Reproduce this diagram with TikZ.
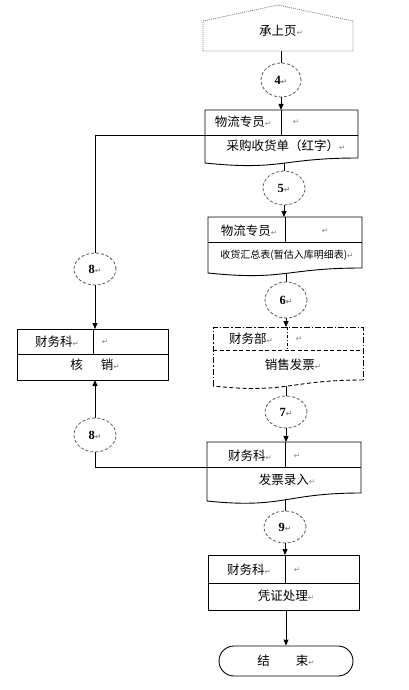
\documentclass[tikz,border=0pt]{standalone}
\usepackage{fontspec}
\newfontfamily\cjk{Noto Sans CJK SC}
\newfontfamily\dvs{DejaVu Sans}
\newfontfamily\numf{Liberation Serif}
\usetikzlibrary{arrows.meta,shapes.geometric}
\newcommand\rt{{\dvs\fontsize{7.5}{8}\selectfont\color{black!50}↵}}
\begin{document}
\begin{tikzpicture}[x=1pt,y=-1pt,
  ln/.style={line width=0.9pt,black},
  arr/.style={ln,-{Triangle[length=6pt,width=5pt]}},
  bx/.style={ln,fill=white},
  circ/.style={ellipse,draw=black!65,dash pattern=on 3pt off 2pt,line width=0.8pt,inner sep=0pt,fill=white,
    font=\numf\bfseries\fontsize{12.5}{14}\selectfont},
  tx/.style={font=\cjk\fontsize{12.5}{14}\selectfont,inner sep=0pt},
  txs/.style={font=\cjk\fontsize{10}{12}\selectfont,inner sep=0pt}]

\useasboundingbox (0,0) rectangle (409,690);

% ---------- connector end points ----------
\coordinate (pentb) at (281,51);
\coordinate (b1top) at (281,110);
\coordinate (b1bot) at (284,155);
\coordinate (b1left) at (205,135);
\coordinate (b2top) at (284,217);
\coordinate (b2bot) at (286,262);
\coordinate (b3top) at (286,327);
\coordinate (b3bot) at (286,375);
\coordinate (b4top) at (286,442);
\coordinate (b4bot) at (285,490);
\coordinate (b4left) at (207,467);
\coordinate (b5top) at (285,555);
\coordinate (b5bot) at (286,610);
\coordinate (lbtop) at (95,329);
\coordinate (lbbot) at (95,380);

% ---------- circles ----------
\node[circ,minimum width=40pt,minimum height=34pt] (c4) at (281,80) {4\rt};
\node[circ,minimum width=42pt,minimum height=34pt] (c5) at (284,188) {5\rt};
\node[circ,minimum width=42pt,minimum height=36pt] (c6) at (286,300) {6\rt};
\node[circ,minimum width=42pt,minimum height=32pt] (c7) at (286,412) {7\rt};
\node[circ,minimum width=42pt,minimum height=32pt] (c9) at (285,527) {9\rt};
\node[circ,minimum width=42pt,minimum height=32pt] (c8a) at (95,269) {8\rt};
\node[circ,minimum width=42pt,minimum height=34pt] (c8b) at (95,435) {8\rt};

% ---------- terminal ----------
\node[ln,draw,rounded corners=15pt,minimum width=134pt,minimum height=30pt,tx] (term) at (286,661) {结\hspace{26pt}束\rt};

% ---------- connectors ----------
\draw[ln] (pentb) -- (c4.north);
\draw[arr] (c4.south) -- (b1top);
\draw[ln] (b1bot) -- (c5.north);
\draw[arr] (c5.south) -- (b2top);
\draw[ln] (b2bot) -- (c6.north);
\draw[arr] (c6.south) -- (b3top);
\draw[ln] (b3bot) -- (c7.north);
\draw[arr] (c7.south) -- (b4top);
\draw[ln] (b4bot) -- (c9.north);
\draw[arr] (c9.south) -- (b5top);
\draw[arr] (b5bot) -- (term.north);
\draw[ln] (b1left) -| (c8a.north);
\draw[arr] (c8a.south) -- (lbtop);
\draw[ln] (b4left) -| (c8b.south);
\draw[arr] (c8b.north) -- (lbbot);

% ---------- pentagon (off-page connector) ----------
\draw[black!50,line width=0.8pt,dash pattern=on 1pt off 1pt] (203,51) -- (203,21) -- (278,5) -- (353,21) -- (353,51) -- cycle;
\node[tx] (pent) at (281,31) {承上页\rt};

% ---------- box 1 ----------
\draw[bx] (205,163) -- (205,110) -- (358,110) -- (358,158) .. controls (281,158) and (281,171) .. cycle;
\draw[ln] (205,135) -- (358,135) (281,110) -- (281,135);
\node[tx] (t1a) at (243,122) {物流专员\rt};
\node[tx] (t1b) at (296,122) {\rt};
\node[tx] (t1c) at (286,146) {采购收货单（红字）\rt};

% ---------- box 2 ----------
\draw[bx] (208,273) -- (208,217) -- (362,217) -- (362,268) .. controls (285,268) and (285,281) .. cycle;
\draw[ln] (208,242) -- (362,242) (285,217) -- (285,242);
\node[tx] (t2a) at (249,231) {物流专员\rt};
\node[tx] (t2b) at (325,231) {\rt};
\node[txs] (t2c) at (287,255) {收货汇总表(暂估入库明细表)\rt};

% ---------- box 3 (dashed) ----------
\fill[white] (213,386) -- (213,327) -- (363,327) -- (363,380) .. controls (288,380) and (288,394) .. cycle;
\draw[ln,dash pattern=on 6pt off 2pt on 1.5pt off 2pt] (213,386) -- (213,327) -- (363,327) -- (363,380);
\draw[ln,dash pattern=on 4pt off 2.5pt] (363,380) .. controls (288,380) and (288,394) .. (213,386);
\draw[ln,dash pattern=on 4pt off 2.5pt] (213,350) -- (363,350);
\draw[ln,dash pattern=on 3pt off 2pt on 1pt off 2pt] (287,327) -- (287,350);
\node[tx] (t3a) at (251,339) {财务部\rt};
\node[tx] (t3b) at (299,339) {\rt};
\node[tx] (t3c) at (293,365) {销售发票\rt};

% ---------- box 4 ----------
\draw[bx] (207,501) -- (207,442) -- (361,442) -- (361,493) .. controls (284,493) and (284,509) .. cycle;
\draw[ln] (207,467) -- (361,467) (285,442) -- (285,467);
\node[tx] (t4a) at (250,456) {财务科\rt};
\node[tx] (t4b) at (297,456) {\rt};
\node[tx] (t4c) at (287,480) {发票录入\rt};

% ---------- box 5 ----------
\draw[bx] (208,555) rectangle (359,610);
\draw[ln] (208,583) -- (359,583) (285,555) -- (285,583);
\node[tx] (t5a) at (249,570) {财务科\rt};
\node[tx] (t5b) at (297,570) {\rt};
\node[tx] (t5c) at (286,596) {凭证处理\rt};

% ---------- left box ----------
\draw[bx] (17,329) rectangle (168,380);
\draw[ln] (17,354) -- (168,354) (93,329) -- (93,354);
\node[tx] (l1) at (57,342) {财务科\rt};
\node[tx] (l2) at (105,342) {\rt};
\node[tx] (l3) at (95,365) {核\hspace{18pt}销\rt};
\end{tikzpicture}
\end{document}
